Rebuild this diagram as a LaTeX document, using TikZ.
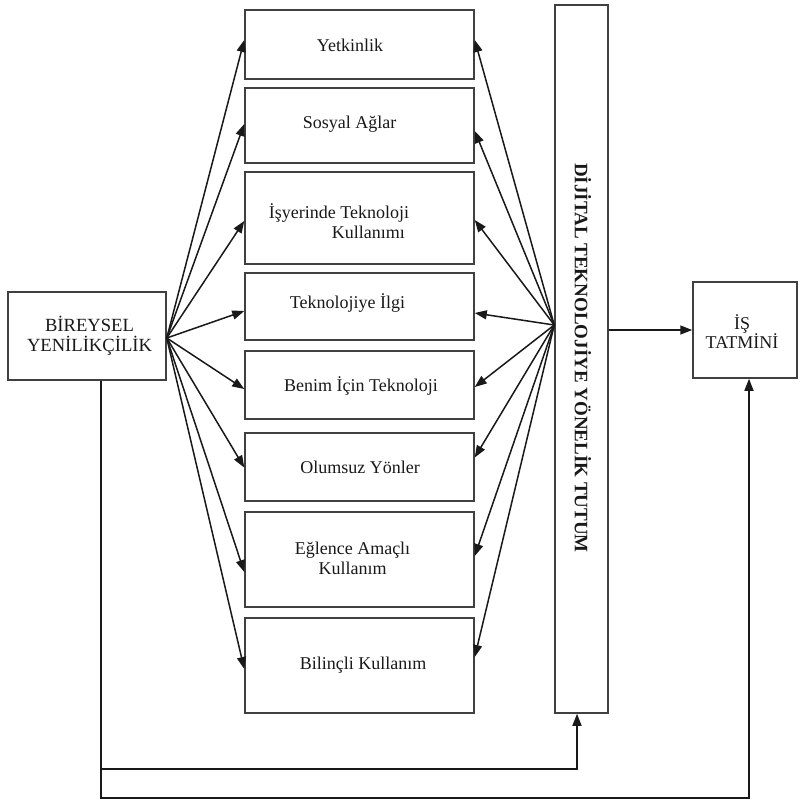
\documentclass[tikz,border=0pt]{standalone}
\usepackage{fontspec}
\setmainfont{Liberation Serif}
\usetikzlibrary{arrows.meta,calc}
\begin{document}
\begin{tikzpicture}[x=1pt,y=-1pt,
 box/.style={draw=black!75,line width=1.5pt,inner sep=0pt},
 lbl/.style={font=\fontsize{18}{20}\selectfont,inner sep=0pt,align=center,text=black!90},
 arr/.style={line width=1.5pt,draw=black!90,-{Triangle[length=12pt,width=9pt]}},
 ln/.style={line width=1.5pt,draw=black!75}]
\useasboundingbox[fill=white] (0,0) rectangle (803,801);
% boxes
\node[box,minimum width=158pt,minimum height=88pt] (L) at (87,336) {};
\node[box,minimum width=229pt,minimum height=69pt] (b1) at (359.5,44.5) {};
\node[box,minimum width=229pt,minimum height=75pt] (b2) at (359.5,125.5) {};
\node[box,minimum width=229pt,minimum height=92pt] (b3) at (359.5,218) {};
\node[box,minimum width=229pt,minimum height=67pt] (b4) at (359.5,306.5) {};
\node[box,minimum width=229pt,minimum height=68pt] (b5) at (359.5,385) {};
\node[box,minimum width=229pt,minimum height=68pt] (b6) at (359.5,467) {};
\node[box,minimum width=229pt,minimum height=95pt] (b7) at (359.5,559.5) {};
\node[box,minimum width=229pt,minimum height=95pt] (b8) at (359.5,665.5) {};
\node[box,minimum width=53pt,minimum height=708pt] (V) at (581.5,359) {};
\node[box,minimum width=104pt,minimum height=96pt] (T) at (745,330) {};
% texts
\node[lbl,font=\fontsize{18.6}{20}\selectfont] (tL) at (89.5,336) {BİREYSEL\\YENİLİKÇİLİK};
\node[lbl,font=\fontsize{18}{19}\selectfont] (tT) at (742,332) {İŞ\\TATMİNİ};
\node[lbl,font=\bfseries\fontsize{19}{20}\selectfont,rotate=-90] (tV) at (583,358) {DİJİTAL TEKNOLOJİYE YÖNELİK TUTUM};
\node[lbl] (t1) at (350,45) {Yetkinlik};
\node[lbl] (t2) at (349.5,124) {Sosyal Ağlar};
\node[lbl,align=left] (t3) at (339,221) {İşyerinde Teknoloji\\\hspace*{63pt}Kullanımı};
\node[lbl] (t4) at (347.5,303) {Teknolojiye İlgi};
\node[lbl] (t5) at (361,386) {Benim İçin Teknoloji};
\node[lbl] (t6) at (360,467) {Olumsuz Yönler};
\node[lbl] (t7) at (352.5,558) {Eğlence Amaçlı\\Kullanım};
\node[lbl] (t8) at (363,665) {Bilinçli Kullanım};
% left fan
\draw[arr] ([yshift=-2pt]L.east) -- ([yshift=4.5pt]b1.west);
\draw[arr] ([yshift=-2pt]L.east) -- ([yshift=1.5pt]b2.west);
\draw[arr] ([yshift=-2pt]L.east) -- ([yshift=-3pt]b3.west);
\draw[arr] ([yshift=-2pt]L.east) -- ([yshift=-4.5pt]b4.west);
\draw[arr] ([yshift=-2pt]L.east) -- ([yshift=-4pt]b5.west);
\draw[arr] ([yshift=-2pt]L.east) -- ([yshift=-0.5pt]b6.west);
\draw[arr] ([yshift=-2pt]L.east) -- ([yshift=-12.5pt]b7.west);
\draw[arr] ([yshift=-2pt]L.east) -- ([yshift=-3.5pt]b8.west);
% right fan
\draw[arr] ([yshift=34pt]V.west) -- ([yshift=4.5pt]b1.east);
\draw[arr] ([yshift=34pt]V.west) -- ([yshift=-5.5pt]b2.east);
\draw[arr] ([yshift=34pt]V.west) -- ([yshift=-2pt]b3.east);
\draw[arr] ([yshift=34pt]V.west) -- ([yshift=-6.5pt]b4.east);
\draw[arr] ([yshift=34pt]V.west) -- ([yshift=-2pt]b5.east);
\draw[arr] ([yshift=34pt]V.west) -- ([yshift=9.5pt]b6.east);
\draw[arr] ([yshift=34pt]V.west) -- ([yshift=3.5pt]b7.east);
\draw[arr] ([yshift=34pt]V.west) -- ([yshift=8.5pt]b8.east);
% V -> T
\draw[arr] (V.east |- T.west) -- (T.west);
% bottom routes
\draw[arr] ([xshift=14pt]L.south) -- ++(0,417) -| ([xshift=4pt]T.south);
\draw[arr] ([xshift=14pt]L.south) -- ++(0,388) -| ([xshift=-4.5pt]V.south);
\end{tikzpicture}
\end{document}
